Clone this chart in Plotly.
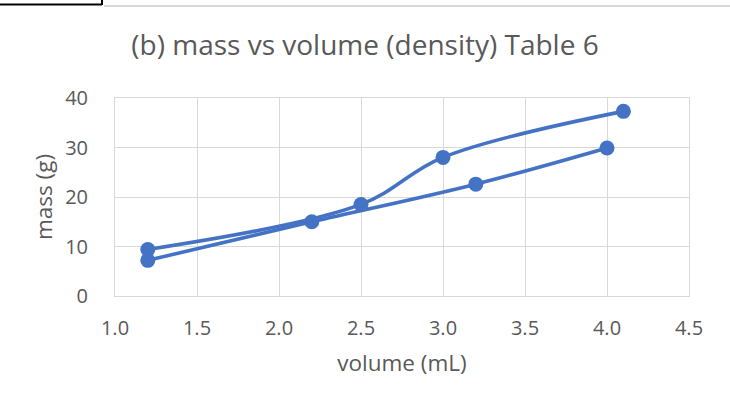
import plotly.graph_objects as go

# Data
series_a_x = [1.2, 2.5, 3.0, 4.1]
series_a_y = [9.4, 18.5, 28.0, 37.3]
series_b_x = [1.2, 2.2, 3.2, 4.0]
series_b_y = [7.2, 15.0, 22.6, 29.9]

x_ticks = [1.0, 1.5, 2.0, 2.5, 3.0, 3.5, 4.0, 4.5]
y_ticks = [0, 10, 20, 30, 40]

W, H = 730, 409
ML, MR, MT, MB = 115, 41, 98, 113
PW, PH = W - ML - MR, H - MT - MB

BLUE = "#4472C4"
GREY = "#595959"
GRID = "#d9d9d9"
FONT = "'Open Sans', 'Noto Sans', sans-serif"

def px(x):
    return (x - ML) / PW

def py(y):
    return (H - MB - y) / PH

fig = go.Figure()
for xs, ys in [(series_b_x, series_b_y), (series_a_x, series_a_y)]:
    fig.add_trace(go.Scatter(
        x=xs, y=ys, mode="lines+markers",
        line=dict(color=BLUE, width=3.6, shape="spline", smoothing=1),
        marker=dict(color=BLUE, size=15),
        showlegend=False, cliponaxis=False,
    ))

fig.update_layout(
    width=W, height=H,
    margin=dict(l=ML, r=MR, t=MT, b=MB),
    paper_bgcolor="white", plot_bgcolor="white",
    font=dict(family=FONT, color=GREY),
    title=dict(text="(b) mass vs volume (density) Table 6",
               x=0.5, xref="container", xanchor="center",
               y=1 - 45 / H, yref="container", yanchor="middle",
               font=dict(size=28, color=GREY, family=FONT)),
    xaxis=dict(range=[1.0, 4.5], tickvals=x_ticks,
               ticktext=[f"{v:.1f}" for v in x_ticks],
               showgrid=True, gridcolor=GRID, gridwidth=1,
               showline=True, linecolor=GRID, linewidth=1, mirror=True,
               zeroline=False, ticks="", ticklabelstandoff=14,
               tickfont=dict(size=20, color=GREY, family=FONT),
               title=dict(text="volume (mL)", standoff=15,
                          font=dict(size=22.5, color=GREY, family=FONT))),
    yaxis=dict(range=[0, 40], tickvals=y_ticks,
               showgrid=True, gridcolor=GRID, gridwidth=1,
               showline=True, linecolor=GRID, linewidth=1, mirror=True,
               zeroline=False, ticks="", ticklabelstandoff=22,
               tickfont=dict(size=20, color=GREY, family=FONT),
               title=dict(text="mass (g)", standoff=6,
                          font=dict(size=22.5, color=GREY, family=FONT))),
    shapes=[
        dict(type="line", xref="paper", yref="paper",
             x0=px(0), x1=px(102), y0=py(4.5), y1=py(4.5),
             line=dict(color="black", width=2)),
        dict(type="line", xref="paper", yref="paper",
             x0=px(102), x1=px(102), y0=py(-2), y1=py(5),
             line=dict(color="black", width=2)),
        dict(type="line", xref="paper", yref="paper",
             x0=px(104), x1=px(731), y0=py(6), y1=py(6),
             line=dict(color=GRID, width=2)),
    ],
)

fig.write_html("out.html",
               config={"displayModeBar": False},
               post_script="document.body.style.margin='0';document.body.style.overflow='hidden';")
